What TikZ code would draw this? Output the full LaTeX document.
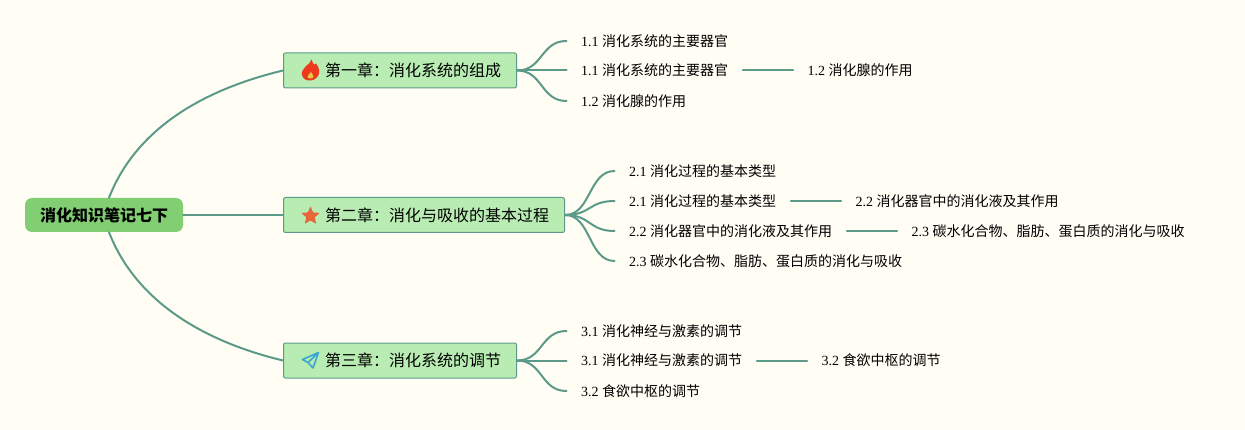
\documentclass[tikz,border=0pt]{standalone}
\usepackage{fontspec}
\setmainfont{Liberation Serif}
\newfontfamily\cjk{Noto Sans CJK SC}
\usetikzlibrary{shapes.geometric,calc}
\definecolor{bgc}{HTML}{FFFDF4}
\definecolor{linec}{HTML}{5B9A88}
\definecolor{rootc}{HTML}{82CE73}
\definecolor{chapc}{HTML}{B9ECB2}
\definecolor{flamec}{HTML}{EE3A1C}
\definecolor{starc}{HTML}{E8663C}
\definecolor{planec}{HTML}{3BA7D0}
\newcommand{\lab}[2]{\fontsize{14}{16}\selectfont #1 {\cjk #2}}
\tikzset{
  x=1pt,y=-1pt,
  conn/.style={draw=linec,line width=2pt,line cap=round},
  rootbox/.style={fill=rootc,rounded corners=7pt,minimum height=34pt,minimum width=158pt,inner sep=0pt,font=\cjk\bfseries\fontsize{16}{18}\selectfont,text=black},
  chapbox/.style={draw=linec,line width=1pt,fill=chapc,rounded corners=2pt,minimum height=35pt,inner ysep=0pt,inner xsep=15.5pt,anchor=west,font=\cjk\fontsize{16}{18}\selectfont,text=black},
  leaf/.style={anchor=west,inner xsep=14.5pt,inner ysep=2pt,text=black},
}
\newcommand{\fork}[2]{\draw[conn] (#1.east) .. controls ++(26,0) and ($(#2.west)+(-26,0)$) .. (#2.west);}
\begin{document}
\begin{tikzpicture}
\fill[bgc] (0,0) rectangle (1245,430);
\useasboundingbox (0,0) rectangle (1245,430);

\node[rootbox] (root) at (104,215) {消化知识笔记七下};
\node[chapbox] (c1) at (283,70.5) {\hspace{26pt}第一章：消化系统的组成};
\node[chapbox] (c2) at (283,215) {\hspace{26pt}第二章：消化与吸收的基本过程};
\node[chapbox] (c3) at (283,360.5) {\hspace{26pt}第三章：消化系统的调节};

% leaves
\node[leaf] (a1) at (566.5,41) {\lab{1.1}{消化系统的主要器官}};
\node[leaf] (a2) at (566.5,70.5) {\lab{1.1}{消化系统的主要器官}};
\node[leaf] (a3) at (566.5,101) {\lab{1.2}{消化腺的作用}};
\node[leaf] (a4) at (793,70.5) {\lab{1.2}{消化腺的作用}};

\node[leaf] (b1) at (614.5,171) {\lab{2.1}{消化过程的基本类型}};
\node[leaf] (b2) at (614.5,201) {\lab{2.1}{消化过程的基本类型}};
\node[leaf] (b3) at (614.5,231) {\lab{2.2}{消化器官中的消化液及其作用}};
\node[leaf] (b4) at (614.5,261) {\lab{2.3}{碳水化合物、脂肪、蛋白质的消化与吸收}};
\node[leaf] (b5) at (841,201) {\lab{2.2}{消化器官中的消化液及其作用}};
\node[leaf] (b6) at (897,231) {\lab{2.3}{碳水化合物、脂肪、蛋白质的消化与吸收}};

\node[leaf] (d1) at (566.5,331) {\lab{3.1}{消化神经与激素的调节}};
\node[leaf] (d2) at (566.5,360.5) {\lab{3.1}{消化神经与激素的调节}};
\node[leaf] (d3) at (566.5,391) {\lab{3.2}{食欲中枢的调节}};
\node[leaf] (d4) at (807,360.5) {\lab{3.2}{食欲中枢的调节}};

% connectors
\draw[conn] (root.east) -- (c2.west);
\draw[conn] ($(root.north)+(5,0)$) .. controls +(28,-72) and ($(c1.west)+(-75,18)$) .. (c1.west);
\draw[conn] ($(root.south)+(5,0)$) .. controls +(28,72) and ($(c3.west)+(-75,-18)$) .. (c3.west);
\fork{c1}{a1}\fork{c1}{a2}\fork{c1}{a3}
\fork{c2}{b1}\fork{c2}{b2}\fork{c2}{b3}\fork{c2}{b4}
\fork{c3}{d1}\fork{c3}{d2}\fork{c3}{d3}
\draw[conn] (a2.east) -- (a4.west);
\draw[conn] (b2.east) -- (b5.west);
\draw[conn] (b3.east) -- (b6.west);
\draw[conn] (d2.east) -- (d4.west);

% icons
\fill[flamec] (311.5,59.5) .. controls (313,64) and (314.5,66) .. (316,63.5)
  .. controls (319,67) and (320,72) .. (318.5,75)
  .. controls (316.5,79) and (313,80.5) .. (310,80.5)
  .. controls (306,80.5) and (303,79) .. (302,75)
  .. controls (301,71) and (304,69) .. (306,66)
  .. controls (308,64) and (311,63) .. (311.5,59.5) -- cycle;
\fill[chapc!60!flamec!60!yellow] (311,72) .. controls (311.5,74) and (314,75) .. (313.5,77)
  .. controls (312.5,79) and (308,79) .. (307.5,77)
  .. controls (307,75) and (310.5,74) .. (311,72) -- cycle;
\node[star,star points=5,star point ratio=2.3,fill=starc,minimum size=20pt,inner sep=0pt,rounded corners=1pt] (staricon) at (310.5,216) {};
\draw[draw=planec,line width=1.6pt,line join=round,fill=none]
  (318.5,352.5) -- (302.5,359.5) -- (308,362.5) -- (313,368) -- cycle
  (318.5,352.5) -- (308,362.5);
\end{tikzpicture}
\end{document}
